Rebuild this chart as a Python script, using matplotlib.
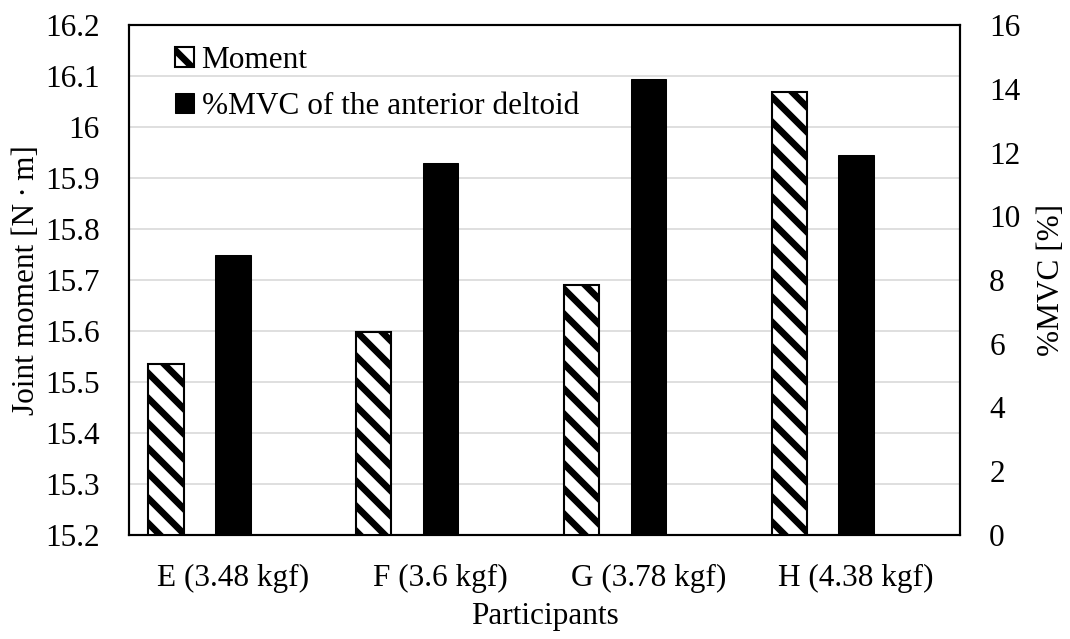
import numpy as np
import matplotlib
matplotlib.use("Agg")
import matplotlib.pyplot as plt
from matplotlib.ticker import MultipleLocator

# ---------- Data ----------
participants = ["E (3.48 kgf)", "F (3.6 kgf)", "G (3.78 kgf)", "H (4.38 kgf)"]
moment = [15.535, 15.598, 15.691, 16.068]      # joint moment [N·m]
mvc = [8.80, 11.68, 14.32, 11.92]              # %MVC of anterior deltoid
moment_ticks = [15.2, 15.3, 15.4, 15.5, 15.6, 15.7, 15.8, 15.9, 16.0, 16.1, 16.2]

# ---------- Style ----------
plt.rcParams['font.family'] = ['Liberation Serif', 'DejaVu Serif']
plt.rcParams['font.size'] = 15
plt.rcParams['hatch.linewidth'] = 3.2
plt.rcParams['hatch.color'] = 'black'

fig = plt.figure(figsize=(1070 / 150, 639 / 150), dpi=150)
ax = fig.add_axes([129 / 1070, 104 / 639, 831 / 1070, 510 / 639])
ax2 = ax.twinx()

x = np.arange(len(participants))
w = 0.17

b1 = ax.bar(x - 0.322, moment, width=w, bottom=0, facecolor='white',
            edgecolor='black', linewidth=1.0, hatch='\\\\', label='Moment', zorder=3)
b2 = ax2.bar(x, mvc, width=w, color='black', edgecolor='black', linewidth=0.5,
             label='%MVC of the anterior deltoid', zorder=3)

# left axis
ax.set_ylim(15.2, 16.2)
ax.set_yticks(moment_ticks)
ax.set_yticklabels([f"{v:g}" for v in moment_ticks])
ax.set_xlim(-0.5, len(participants) - 0.5)
ax.set_xticks(x)
ax.set_xticklabels(participants)
ax.grid(axis='y', color='#d9d9d9', linewidth=0.8, zorder=0)
ax.set_axisbelow(True)
ax.tick_params(axis='both', length=0)
ax.tick_params(axis='y', pad=14)
ax.tick_params(axis='x', pad=14)
ax.set_ylabel("Joint moment [N\u2009·\u2009m]", labelpad=2)
ax.set_xlabel("Participants", labelpad=4)

# right axis
ax2.set_ylim(0, 16)
ax2.yaxis.set_major_locator(MultipleLocator(2))
ax2.tick_params(axis='y', length=0, pad=14)
ax2.set_ylabel("%MVC [%]", labelpad=8)

for a in (ax, ax2):
    for s in a.spines.values():
        s.set_linewidth(1.0)
        s.set_color('black')

leg = ax2.legend(handles=[b1, b2], loc='upper left',
                 bbox_to_anchor=((175 - 129) / 831, (535 - 46) / 510),
                 frameon=False, borderpad=0, borderaxespad=0,
                 handlelength=0.6, handleheight=0.6, handletextpad=0.25,
                 labelspacing=0.55, fontsize=15)

fig.savefig("out.png", dpi=150)
